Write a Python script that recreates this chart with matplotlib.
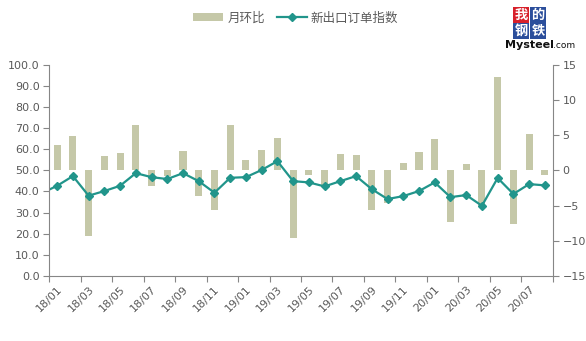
import numpy as np
import matplotlib
matplotlib.use("Agg")
import matplotlib.pyplot as plt
from matplotlib.lines import Line2D
from matplotlib.patches import Patch, Rectangle

plt.rcParams['font.family'] = ['DejaVu Sans', 'Noto Sans CJK SC']

# 月份标签 (2018/01 - 2020/08)
months = ['18/01', '18/02', '18/03', '18/04', '18/05', '18/06', '18/07', '18/08',
          '18/09', '18/10', '18/11', '18/12', '19/01', '19/02', '19/03', '19/04',
          '19/05', '19/06', '19/07', '19/08', '19/09', '19/10', '19/11', '19/12',
          '20/01', '20/02', '20/03', '20/04', '20/05', '20/06', '20/07', '20/08']

# 新出口订单指数
export_index = [42.7, 47.3, 38.0, 40.2, 42.7, 48.7, 46.8, 45.9,
                48.7, 44.9, 39.4, 46.5, 46.8, 50.2, 54.4, 44.9,
                44.3, 42.4, 44.9, 47.3, 41.1, 36.4, 37.8, 40.2,
                44.3, 37.3, 38.3, 33.2, 46.4, 38.8, 43.5, 42.9]
# 17/12 的指数, 只画出连到 18/01 的那一段
prev_index = 39.1

# 月环比
mom_change = [3.6, 4.9, -9.4, 2.0, 2.5, 6.5, -2.2, -0.8,
              2.8, -3.6, -5.7, 6.5, 1.5, 2.9, 4.6, -9.6,
              -0.7, -2.1, 2.3, 2.2, -5.7, -4.7, 1.0, 2.6,
              4.5, -7.3, 0.9, -5.1, 13.3, -7.7, 5.2, -0.7]

bar_color = '#C5C8A8'
line_color = '#21958B'
axis_color = '#868686'
text_color = '#595959'

x = np.arange(len(months))

fig = plt.figure(figsize=(5.86, 3.41), dpi=100)
ax = fig.add_axes([0.0841, 0.1915, 0.8591, 0.6175])
ax2 = ax.twinx()

# 柱子放在右轴, 折线在上层
ax2.bar(x, mom_change, width=0.45, color=bar_color, zorder=1)
ax.set_zorder(ax2.get_zorder() + 1)
ax.patch.set_visible(False)

line_x = np.concatenate([[-1], x])
line_y = [prev_index] + export_index
ax.plot(line_x, line_y, color=line_color, linewidth=1.6, marker='D',
        markersize=4.5, markerfacecolor=line_color, markeredgecolor=line_color)

ax.set_xlim(-0.5, len(months) - 0.5)
ax.set_ylim(0, 100)
ax.set_yticks(np.arange(0, 101, 10))
ax.set_yticklabels([f'{v:.1f}' for v in np.arange(0, 101, 10)])
ax2.set_ylim(-15, 15)
ax2.set_yticks(np.arange(-15, 16, 5))

ax.set_xticks(x[::2])
ax.set_xticklabels(months[::2], rotation=45, ha='right', va='top',
                   rotation_mode='anchor')
ax.set_xticks(np.arange(-0.5, len(months), 2), minor=True)
ax.tick_params(axis='x', which='major', length=0, pad=6)
ax.tick_params(axis='x', which='minor', length=4, color=axis_color, width=0.8)

for a in (ax, ax2):
    a.tick_params(axis='y', length=4, color=axis_color, width=0.8,
                  labelsize=8, labelcolor=text_color, pad=3)
    a.tick_params(axis='x', labelsize=8, labelcolor=text_color)
    a.spines['top'].set_visible(False)
    for s in ('left', 'right', 'bottom'):
        a.spines[s].set_color(axis_color)
        a.spines[s].set_linewidth(0.8)
ax.spines['right'].set_visible(False)
ax2.spines['left'].set_visible(False)
ax2.spines['bottom'].set_visible(False)

handles = [Patch(facecolor=bar_color, edgecolor='none'),
           Line2D([0], [0], color=line_color, linewidth=1.6, marker='D',
                  markersize=4)]
fig.legend(handles, ['月环比', '新出口订单指数'], loc='center',
           bbox_to_anchor=(0.505, 0.947), ncol=2, frameon=False, fontsize=9,
           handlelength=2.4, handleheight=0.6, handletextpad=0.3,
           columnspacing=1.0, labelcolor=text_color)

# 右上角 Mysteel 标志
W, H = 586.0, 341.0
cells = [('我', 513, 7, '#D7202A'), ('的', 530, 7, '#2B4E9B'),
         ('钢', 513, 23, '#2B4E9B'), ('铁', 530, 23, '#2B4E9B')]
for ch, px, py, c in cells:
    fig.patches.append(Rectangle((px / W, 1 - (py + 16) / H), 16 / W, 16 / H,
                                 transform=fig.transFigure, facecolor=c,
                                 edgecolor='none'))
    fig.text((px + 8) / W, 1 - (py + 8) / H, ch, color='white', fontsize=9.5,
             fontweight='bold', ha='center', va='center',
             family=['Noto Sans CJK SC'])
fig.text(505 / W, 1 - 45 / H, 'Mysteel', fontsize=8, fontweight='bold',
         color='#111111', ha='left', va='center')
fig.text(553 / W, 1 - 45 / H, '.com', fontsize=6.5, color='#111111',
         ha='left', va='center')

fig.savefig('out.png', dpi=100)
